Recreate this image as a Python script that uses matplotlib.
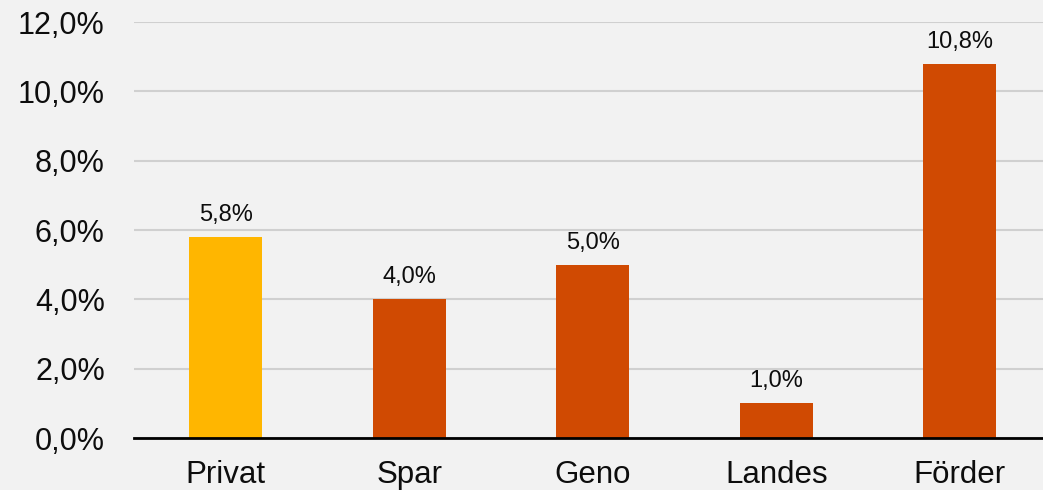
import matplotlib.pyplot as plt
from matplotlib.ticker import FuncFormatter

# Data
categories = ["Privat", "Spar", "Geno", "Landes", "Förder"]
values = [5.8, 4.0, 5.0, 1.0, 10.8]
bar_colors = ["#FFB600", "#D04A02", "#D04A02", "#D04A02", "#D04A02"]
y_ticks = [0, 2, 4, 6, 8, 10, 12]

plt.rcParams['font.family'] = ['Liberation Sans', 'DejaVu Sans']

fig = plt.figure(figsize=(10.43, 4.90), dpi=100)
fig.patch.set_facecolor("#F2F2F2")

# axes placed to match the reference pixel layout
ax = fig.add_axes([134 / 1043, 52 / 490, 5 * 183.5 / 1043, 416 / 490])
ax.set_facecolor("#F2F2F2")

x = list(range(len(categories)))
ax.bar(x, values, width=0.4, color=bar_colors, zorder=3)

# value labels
for xi, v in zip(x, values):
    ax.annotate(f"{v:.1f}%".replace(".", ","), (xi, v),
                xytext=(0, 11.5), textcoords="offset points",
                ha="center", va="baseline", fontsize=17, color="#0D0D0D")

ax.set_xlim(-0.5, len(categories) - 0.5)
ax.set_ylim(0, 12)
ax.set_yticks(y_ticks)
ax.yaxis.set_major_formatter(FuncFormatter(lambda v, p: f"{v:.1f}%".replace(".", ",")))
ax.set_xticks(x)
ax.set_xticklabels(categories)

ax.tick_params(axis="y", length=0, pad=21, labelsize=22, labelcolor="#0D0D0D")
ax.tick_params(axis="x", length=0, pad=15.5, labelsize=22.5, labelcolor="#0D0D0D")

ax.grid(axis="y", color="#D0D0D0", linewidth=1.5, zorder=0)
for side in ["top", "right", "left"]:
    ax.spines[side].set_visible(False)
ax.spines["bottom"].set_color("#000000")
ax.spines["bottom"].set_linewidth(2)
ax.spines["bottom"].set_zorder(4)

fig.savefig("out.png", dpi=100, facecolor=fig.get_facecolor())
